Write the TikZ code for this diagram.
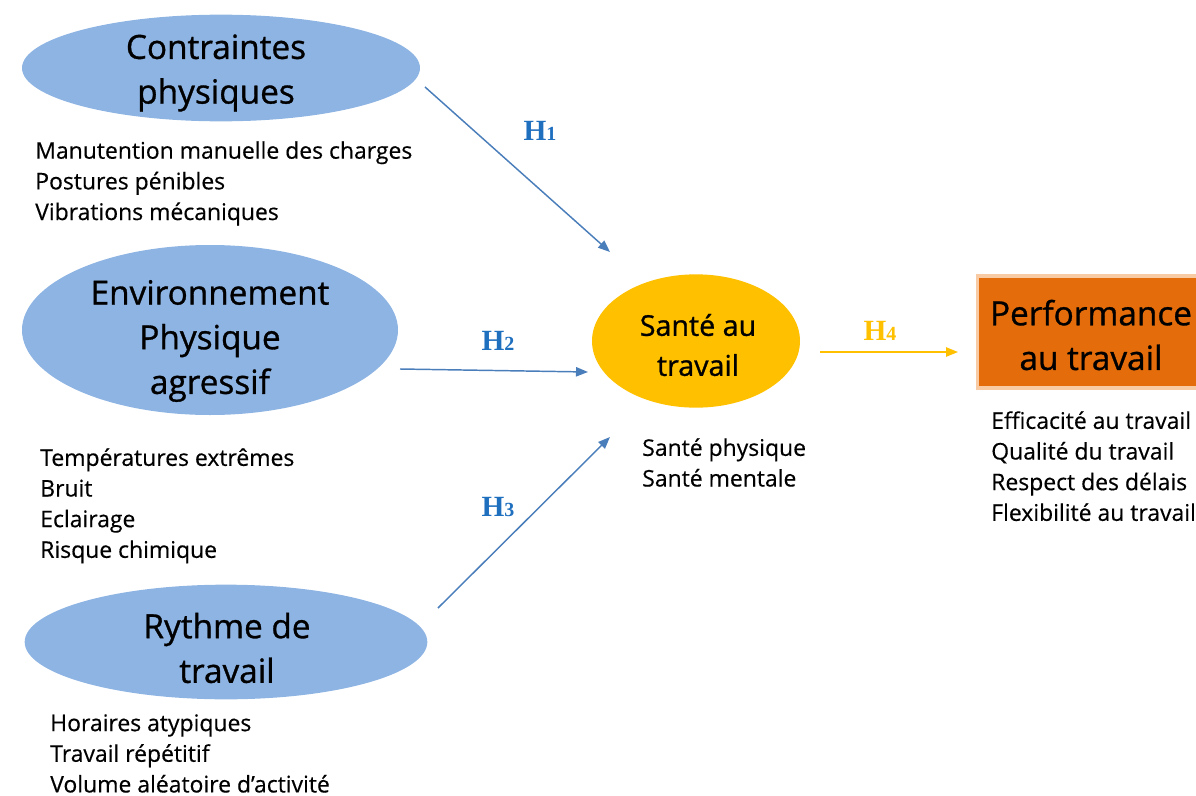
\documentclass[tikz,border=0pt]{standalone}
\usepackage{fontspec}
\setmainfont{Open Sans}[FakeBold=0.4]
\newfontfamily\titlefont{Open Sans}[FakeBold=0.9]
\newfontfamily\hfont{Liberation Serif}
\usetikzlibrary{shapes.geometric,arrows.meta}
\definecolor{ellblue}{HTML}{8EB4E3}
\definecolor{arrblue}{HTML}{4A7EBB}
\definecolor{hblue}{HTML}{1F6FBF}
\definecolor{gold}{HTML}{FFC000}
\definecolor{perforange}{HTML}{E46C0A}
\definecolor{peach}{HTML}{F8CBA4}
\tikzset{
  factor/.style={ellipse, fill=ellblue, inner sep=0pt},
  title/.style={align=center, inner sep=0pt, font=\titlefont\fontsize{25}{33.5}\selectfont},
  itemlist/.style={anchor=north west, align=left, inner sep=0pt,
    font=\fontsize{17.2}{23}\selectfont},
  link/.style={draw=arrblue, line width=1.1pt, -{Triangle[length=9pt,width=7pt]}},
  hlab/.style={text=hblue, font=\hfont\bfseries},
}
\newcommand{\hyp}[1]{{\fontsize{22}{22}\selectfont H}{\fontsize{15}{15}\selectfont #1}}
\begin{document}
\begin{tikzpicture}[x=0.75pt,y=-0.75pt]
\useasboundingbox (0,0) rectangle (1196,796);

% factor ellipses and their titles
\node[factor, minimum width=298.5pt, minimum height=80pt] (contr) at (221,68) {};
\node[title] (contr-t) at (216,73) {Contraintes\\physiques};
\node[factor, minimum width=282pt, minimum height=127.5pt] (env) at (210,330) {};
\node[title] (env-t) at (210,341) {Environnement\\Physique\\agressif};
\node[factor, minimum width=302pt, minimum height=86pt] (rythme) at (226,642) {};
\node[title] (rythme-t) at (227,648) {Rythme de\\travail};

% central health node
\node[ellipse, fill=gold, inner sep=0pt, minimum width=156pt, minimum height=100pt] (sante) at (696,341) {};
\node[title, font=\titlefont\fontsize{21.5}{30}\selectfont] (sante-t) at (698,345) {Santé au\\travail};

% performance box
\node[rectangle, fill=perforange, draw=peach, line width=2.5pt, anchor=west,
  minimum width=180pt, minimum height=84pt, inner sep=0pt] (perf) at (976,332) {};
\node[title] (perf-t) at (1091,335) {Performance\\au travail};

% item lists
\node[itemlist] (l1) at (35,141) {Manutention manuelle des charges\\Postures pénibles\\Vibrations mécaniques};
\node[itemlist] (l2) at (40,448) {Températures extrêmes\\Bruit\\Eclairage\\Risque chimique};
\node[itemlist] (l3) at (50,714) {Horaires atypiques\\Travail répétitif\\Volume aléatoire d’activité};
\node[itemlist] (l4) at (642,438) {Santé physique\\Santé mentale};
\node[itemlist] (l5) at (991,411) {Efficacité au travail\\Qualité du travail\\Respect des délais\\Flexibilité au travail};

% connector end points
\coordinate (s1) at (425,87);
\coordinate (e1) at (610,252);
\coordinate (s2) at (400,369);
\coordinate (e2) at (588,372);
\coordinate (s3) at (438,608);
\coordinate (e3) at (610,437);
\coordinate (s4) at (820,352);
\coordinate (e4) at (958,352);

\draw[link] (s1) -- (e1);
\draw[link] (s2) -- (e2);
\draw[link] (s3) -- (e3);
\draw[link, draw=gold] (s4) -- (e4);

% hypothesis labels
\node[hlab] (h1) at (540,131) {\hyp{1}};
\node[hlab] (h2) at (498,341) {\hyp{2}};
\node[hlab] (h3) at (498,507) {\hyp{3}};
\node[hlab, text=gold] (h4) at (880,331) {\hyp{4}};
\end{tikzpicture}
\end{document}
